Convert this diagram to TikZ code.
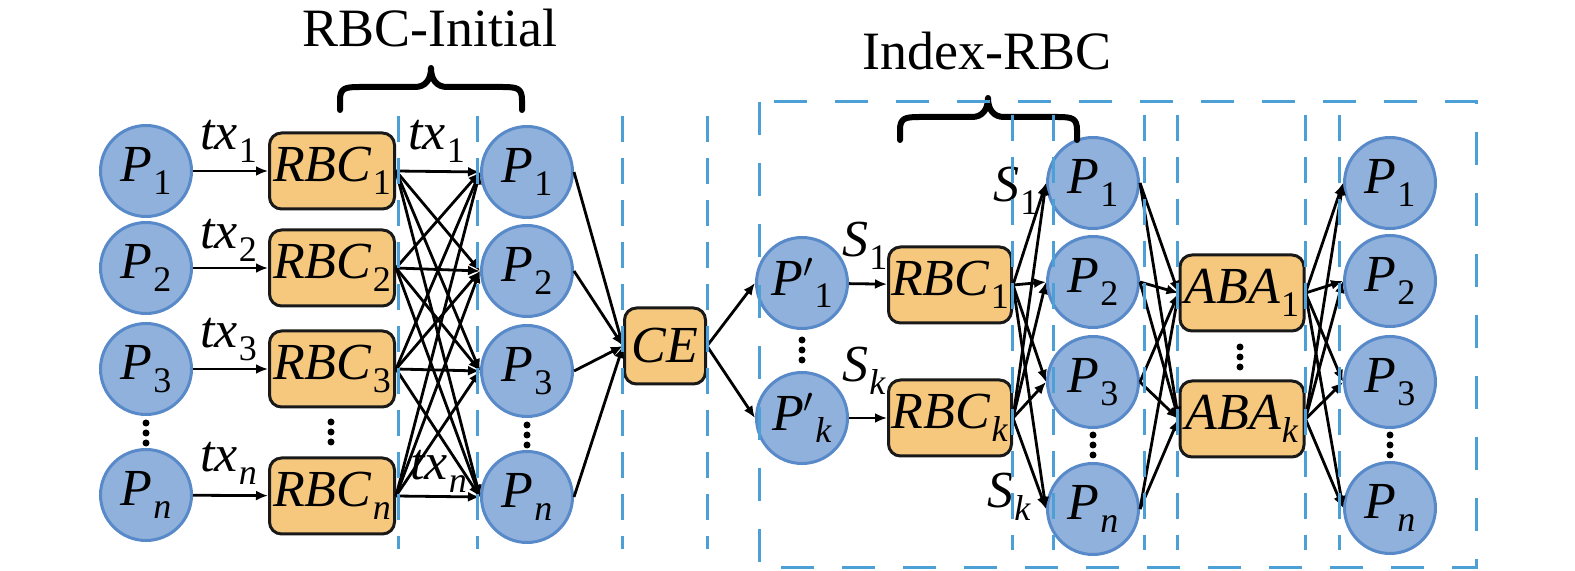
\documentclass[tikz,border=0pt]{standalone}
\usepackage{fontspec}
\setmainfont{Liberation Serif}
\usetikzlibrary{arrows.meta}
\definecolor{cfill}{RGB}{143,177,219}
\definecolor{cline}{RGB}{88,137,201}
\definecolor{bfill}{RGB}{246,200,126}
\definecolor{dline}{RGB}{76,160,214}
\newcommand\sbx[2]{\textit{#1}\kern0.5pt\raisebox{-0.24em}{\fontsize{18}{18}\selectfont #2}}
\begin{document}
\begin{tikzpicture}[x=0.5pt,y=-0.5pt,
  pc/.style={circle,fill=cfill,draw=cline,line width=1.5pt,minimum size=45.5pt,inner sep=0pt,font=\fontsize{26}{26}\selectfont},
  bx/.style={rectangle,rounded corners=6pt,fill=bfill,draw=black!90,line width=1.5pt,minimum height=38pt,minimum width=62.5pt,inner sep=0pt,font=\fontsize{26}{26}\selectfont},
  ar/.style={line width=1.4pt,-{Latex[length=6pt,width=5pt]}},
  dl/.style={dline,line width=1.5pt,dash pattern=on 13pt off 8pt},
  ob/.style={dline,line width=1.5pt,dash pattern=on 16.5pt off 14pt},
  lb/.style={font=\fontsize{26}{26}\selectfont,inner sep=0pt,anchor=base west},
  brc/.style={line width=3pt,line cap=round,line join=round},
  tt/.style={font=\fontsize{27}{27}\selectfont,inner sep=0pt,anchor=base west}]
\useasboundingbox (0,0) rectangle (1575,571);

% column 1
\node[pc] (a1) at (146,171) {\sbx{P}{1}};
\node[pc] (a2) at (146,268) {\sbx{P}{2}};
\node[pc] (a3) at (146,369) {\sbx{P}{3}};
\node[pc] (an) at (146,495) {\sbx{P}{\textit{n}}};
% RBC boxes
\node[bx] (r1) at (332,171) {\sbx{RBC}{1}};
\node[bx] (r2) at (332,268) {\sbx{RBC}{2}};
\node[bx] (r3) at (332,369) {\sbx{RBC}{3}};
\node[bx] (rn) at (332,496) {\sbx{RBC}{\textit{n}}};
% column 2
\node[pc] (b1) at (527,172) {\sbx{P}{1}};
\node[pc] (b2) at (527,271) {\sbx{P}{2}};
\node[pc] (b3) at (527,371) {\sbx{P}{3}};
\node[pc] (bn) at (527,497) {\sbx{P}{\textit{n}}};
% CE
\node[bx,minimum width=40.5pt] (ce) at (665,346) {\textit{CE}};
% P'
\node[pc] (q1) at (802,283) {\sbx{P$'$}{1}};
\node[pc] (qk) at (802,418) {\sbx{P$'$}{\textit{k}}};
% RBC'
\node[bx,minimum width=61.5pt] (s1) at (950,285) {\sbx{RBC}{1}};
\node[bx,minimum width=61.5pt] (sk) at (950,418) {\sbx{RBC}{\textit{k}}};
% column 3
\node[pc] (c1) at (1093,183) {\sbx{P}{1}};
\node[pc] (c2) at (1093,282) {\sbx{P}{2}};
\node[pc] (c3) at (1093,382) {\sbx{P}{3}};
\node[pc] (cn) at (1093,509) {\sbx{P}{\textit{n}}};
% ABA
\node[bx,minimum width=62pt] (g1) at (1242,293) {\sbx{ABA}{1}};
\node[bx,minimum width=62pt] (gk) at (1242,419) {\sbx{ABA}{\textit{k}}};
% column 4
\node[pc] (d1) at (1390,183) {\sbx{P}{1}};
\node[pc] (d2) at (1390,281) {\sbx{P}{2}};
\node[pc] (d3) at (1390,382) {\sbx{P}{3}};
\node[pc] (dn) at (1390,508) {\sbx{P}{\textit{n}}};

% connectors
\foreach \i in {1,2,3,n} \draw[ar] (a\i) -- (r\i);
\foreach \i in {1,2,3,n} \foreach \j in {1,2,3,n} \draw[ar] (r\i.east) -- (b\j.west);
\foreach \j in {1,2,3,n} \draw[ar] (b\j.east) -- (ce.west);
\draw[ar] (ce.east) -- (q1.west);
\draw[ar] (ce.east) -- (qk.west);
\draw[ar] (q1) -- (s1);
\draw[ar] (qk) -- (sk);
\foreach \i in {1,k} \foreach \j in {1,2,3,n} \draw[ar] (s\i.east) -- (c\j.west);
\foreach \j in {1,2,3,n} \foreach \i in {1,k} \draw[ar] (c\j.east) -- (g\i.west);
\foreach \i in {1,k} \foreach \j in {1,2,3,n} \draw[ar] (g\i.east) -- (d\j.west);

% dots
\foreach \x/\y in {146/433,331/432,527/435,802/350,1093/445,1240/357,1390/445}
  \foreach \d in {-10,0,10} \fill (\x,\y+\d) circle (1.75pt);

% labels
\node[lb] (l1) at (200,150) {\sbx{tx}{1}};
\node[lb] (l2) at (200,249) {\sbx{tx}{2}};
\node[lb] (l3) at (200,348) {\sbx{tx}{3}};
\node[lb] (l4) at (200,472) {\sbx{tx}{\textit{n}}};
\node[lb] (l5) at (408,150) {\sbx{tx}{1}};
\node[lb] (l6) at (410,480) {\sbx{tx}{\textit{n}}};
\node[lb] (l7) at (842,257) {\sbx{S}{1}};
\node[lb] (l8) at (842,382) {\sbx{S}{\textit{k}}};
\node[lb] (l9) at (993,202) {\sbx{S}{1}};
\node[lb] (l10) at (987,508) {\sbx{S}{\textit{k}}};

% titles and braces
\node[tt] (t1) at (302,47) {RBC-Initial};
\node[tt] (t2) at (862,70) {Index-RBC};
\draw[brc] (340,110) -- (340,100) .. controls (340,88) and (345,87) .. (360,87) -- (415,87)
  .. controls (425,87) and (431,80) .. (431,68) .. controls (431,80) and (437,87) .. (447,87)
  -- (502,87) .. controls (517,87) and (522,88) .. (522,100) -- (522,110);
\draw[brc] (900,140) -- (900,130) .. controls (900,118) and (905,117) .. (920,117) -- (972,117)
  .. controls (982,117) and (988,110) .. (988,98) .. controls (988,110) and (994,117) .. (1004,117)
  -- (1057,117) .. controls (1072,117) and (1077,118) .. (1077,130) -- (1077,140);

% dashed lines
\foreach \x in {398,477,622,707} \draw[dl] (\x,116) -- (\x,549);
\foreach \x in {1012,1053,1144,1177,1305,1339} \draw[dl] (\x,115) -- (\x,550);
\draw[ob] (759,102) rectangle (1476,568);
\end{tikzpicture}
\end{document}
